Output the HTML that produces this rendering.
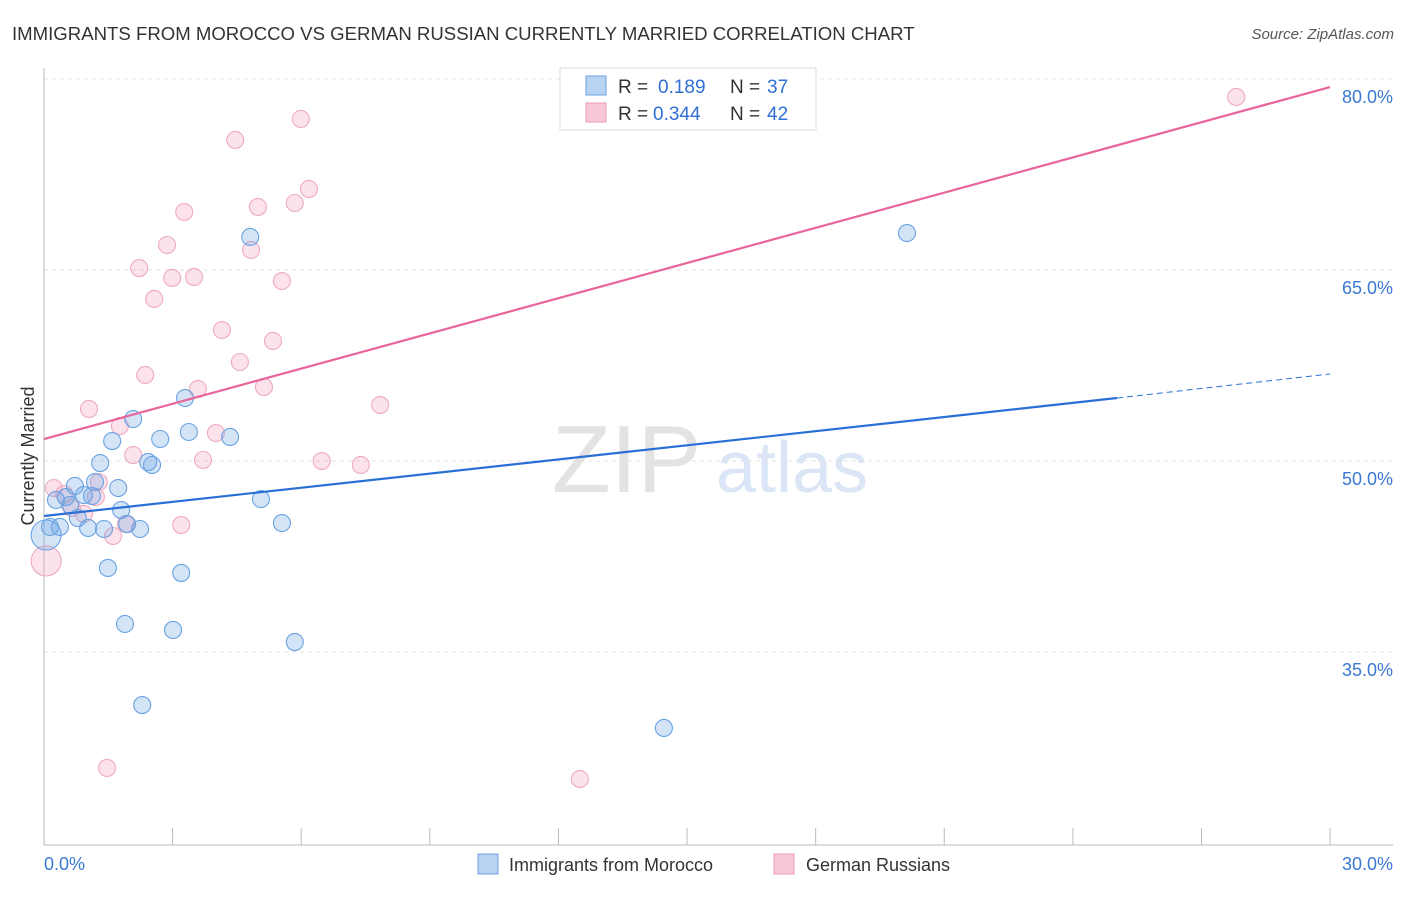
<!DOCTYPE html>
<html><head><meta charset="utf-8"><style>
body{margin:0;background:#fff;font-family:"Liberation Sans",sans-serif;}
svg text{font-family:"Liberation Sans",sans-serif;}
</style></head><body>
<svg id="chart" width="1406" height="892" xmlns="http://www.w3.org/2000/svg">
<text x="12" y="40" font-size="18.6" fill="#333">IMMIGRANTS FROM MOROCCO VS GERMAN RUSSIAN CURRENTLY MARRIED CORRELATION CHART</text>
<text x="1394" y="39" font-size="15" fill="#555" text-anchor="end" font-style="italic">Source: ZipAtlas.com</text>
<g opacity="0.5">
<text x="552" y="492" font-size="96" font-family="Liberation Serif,serif" fill="#c8c8c8">ZIP</text>
<text x="716" y="492" font-size="72" fill="#b6cdec">atlas</text>
</g>
<g id="grid"></g>
<g id="axes"></g>
<g id="marks"></g>
<text transform="translate(34,456) rotate(-90)" font-size="18" fill="#333" text-anchor="middle">Currently Married</text>
<g>
<rect x="560" y="68" width="256" height="62" fill="#fff" stroke="#ddd"/>
<rect x="586" y="76" width="20" height="19" fill="#b9d3f3" stroke="#6aa0e0"/>
<rect x="586" y="103" width="20" height="19" fill="#f9c8d8" stroke="#eb9bb6"/>
<text x="618" y="93" font-size="19" fill="#333">R = </text><text x="658" y="93" font-size="19" fill="#2f6fd6">0.189</text>
<text x="730" y="93" font-size="19" fill="#333">N = </text><text x="767" y="93" font-size="19" fill="#2f6fd6">37</text>
<text x="618" y="120" font-size="19" fill="#333">R = </text><text x="653" y="120" font-size="19" fill="#2f6fd6">0.344</text>
<text x="730" y="120" font-size="19" fill="#333">N = </text><text x="767" y="120" font-size="19" fill="#2f6fd6">42</text>
</g>
<g>
<rect x="478" y="854" width="20" height="20" fill="#b9d3f3" stroke="#6aa0e0"/>
<text x="509" y="871" font-size="18" fill="#333">Immigrants from Morocco</text>
<rect x="774" y="854" width="20" height="20" fill="#f9c8d8" stroke="#eb9bb6"/>
<text x="806" y="871" font-size="18" fill="#333">German Russians</text>
</g>
</svg>
<script>
const yTicks=[80,65,50,35];
const yTickLabels=["80.0%","65.0%","50.0%","35.0%"];
const xTickLabels=["0.0%","30.0%"];
const blueX=[4.81,20.13,3.29,2.08,3.38,1.59,2.71,4.34,1.31,2.43,2.52,0.72,1.73,1.19,0.93,1.12,0.28,0.51,5.06,0.61,0.79,1.80,1.94,1.40,1.03,2.24,0.37,0.14,5.55,1.49,3.20,1.89,3.01,5.85,2.29,14.46,0.05];
const blueY=[67.59,67.9,54.94,53.29,52.27,51.56,51.72,51.88,49.83,49.91,49.68,48.03,47.87,48.34,47.32,47.24,46.93,47.16,47.0,46.54,45.51,46.14,45.04,44.65,44.73,44.65,44.81,44.81,45.12,41.59,41.2,37.19,36.72,35.77,30.82,29.02,44.18];
const pinkX=[27.81,5.99,4.46,6.18,5.85,4.99,3.27,2.87,4.83,2.22,2.99,3.50,5.55,2.57,4.15,5.34,4.57,2.36,3.59,5.13,7.84,1.05,1.77,4.01,2.08,3.71,6.48,7.39,0.23,1.28,0.47,1.21,0.65,0.93,1.91,3.20,1.61,0.05,1.47,12.50];
const pinkY=[78.59,76.86,75.21,71.36,70.26,69.95,69.55,66.96,66.57,65.15,64.37,64.45,64.13,62.72,60.28,59.42,57.77,56.75,55.65,55.81,54.39,54.08,52.74,52.19,50.46,50.07,49.99,49.68,47.87,48.34,47.4,47.16,46.3,45.83,45.04,44.96,44.1,42.14,25.88,25.01];
const blueTrend=[45.67,54.94,56.83]; // at x=0, 25.03, 30
const pinkTrend=[51.72,79.37]; // at x=0, 30
const NS="http://www.w3.org/2000/svg";
const sx=v=>44+v*42.87, sy=v=>79+(80-v)*12.73;
function mk(t,a,p){const e=document.createElementNS(NS,t);for(const k in a)e.setAttribute(k,a[k]);p.appendChild(e);return e;}
const grid=document.getElementById('grid'),axes=document.getElementById('axes'),marks=document.getElementById('marks');
yTicks.forEach((t,i)=>{
 const l=mk('line',{x1:44,x2:1393,y1:sy(t),y2:sy(t),stroke:'#e3e3e3','stroke-dasharray':'4,4'},grid);
 
 
 const tx=mk('text',{x:1393,y:sy(t)+24,'font-size':18,fill:'#3a78d4','text-anchor':'end'},axes);
 tx.textContent=yTickLabels[i];
 
 
});
mk('line',{x1:44,x2:44,y1:68,y2:845,stroke:'#bbb'},axes);
mk('line',{x1:44,x2:1393,y1:845,y2:845,stroke:'#bbb'},axes);
for(let i=0;i<=10;i++){const x=sx(i*3);mk('line',{x1:x,x2:x,y1:828,y2:845,stroke:'#bbb'},axes);}
const xl0=mk('text',{x:44,y:870,'font-size':18,fill:'#3a78d4'},axes);xl0.textContent=xTickLabels[0];


const xl1=mk('text',{x:1393,y:870,'font-size':18,fill:'#3a78d4','text-anchor':'end'},axes);xl1.textContent=xTickLabels[1];


function dots(X,Y,fill,stroke,name){X.forEach((x,i)=>{const big=(i===X.length-1&&name==='morocco')||(name==='german-russian'&&i===37);
 const c=mk('circle',{cx:sx(x),cy:sy(Y[i]),r:big?15:8.5,fill:fill,stroke:stroke,'stroke-width':1.1},marks);
 
 });}
dots(pinkX,pinkY,'rgba(243,160,190,0.3)','#eeaac2','german-russian');
dots(blueX,blueY,'rgba(110,165,230,0.3)','#6aa2e2','morocco');
const bt=mk('line',{x1:sx(0),y1:sy(blueTrend[0]),x2:sx(25.03),y2:sy(blueTrend[1]),stroke:'#2a6fd6','stroke-width':2.2},marks);


const bd=mk('line',{x1:sx(25.03),y1:sy(blueTrend[1]),x2:sx(30),y2:sy(blueTrend[2]),stroke:'#2a6fd6','stroke-width':1,'stroke-dasharray':'6,4'},marks);


const pt=mk('line',{x1:sx(0),y1:sy(pinkTrend[0]),x2:sx(30),y2:sy(pinkTrend[1]),stroke:'#e8649a','stroke-width':2.2},marks);


</script>
</body></html>
